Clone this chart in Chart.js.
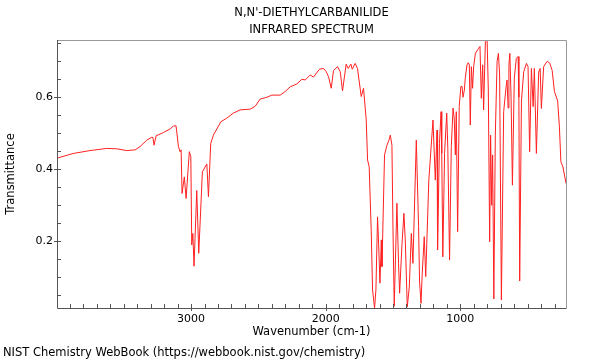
<!DOCTYPE html>
<html>
<head>
<meta charset="utf-8">
<script src="https://cdn.jsdelivr.net/npm/chart.js@4.4.1/dist/chart.umd.min.js"></script>
<style>
  body { margin: 0; background: #fff; }
  canvas { display: block; }
</style>
</head>
<body>
<canvas id="irChart" width="600" height="360"></canvas>
<script>
// spectrum (wavenumber in cm-1, transmittance)
const wavenumber = [
  3996, 3875, 3751, 3627, 3552, 3478, 3416, 3379, 3329, 3292, 3283, 3275, 3260, 3206, 3156, 3132,
  3112, 3102, 3094, 3082, 3074, 3067, 3050, 3037, 3013, 3002, 2995, 2987, 2978, 2958, 2943, 2916,
  2883, 2871, 2854, 2834, 2779, 2735, 2686, 2636, 2561, 2524, 2487, 2437, 2400, 2338, 2301, 2264,
  2214, 2177, 2152, 2115, 2091, 2046, 2016, 1996, 1979, 1959, 1942, 1912, 1892, 1875, 1848, 1833,
  1813, 1803, 1781, 1764, 1736, 1719, 1699, 1689, 1677, 1662, 1652, 1637, 1627, 1615, 1607, 1597,
  1587, 1582, 1563, 1545, 1531, 1520, 1508, 1500, 1491, 1471, 1459, 1451, 1433, 1419, 1409, 1394,
  1379, 1364, 1352, 1327, 1310, 1303, 1292, 1283, 1268, 1257, 1234, 1203, 1186, 1173, 1169, 1155,
  1143, 1138, 1130, 1117, 1101, 1093, 1080, 1067, 1054, 1045, 1037, 1030, 1020, 1008, 996, 987,
  980, 970, 963, 950, 941, 933, 926, 918, 909, 901, 888, 864, 854, 844, 834, 827,
  814, 801, 792, 782, 775, 767, 760, 751, 740, 727, 717, 708, 695, 678, 660, 653,
  645, 639, 632, 623, 613, 599, 584, 571, 565, 559, 546, 529, 509, 497, 485, 472,
  459, 450, 435, 418, 407, 398, 381, 355, 336, 318, 301, 277, 264, 253, 238, 215
];
const transmittance = [
  0.431, 0.444, 0.452, 0.458, 0.457, 0.452, 0.454, 0.463, 0.481, 0.489, 0.488, 0.467, 0.493, 0.502, 0.512, 0.52,
  0.521, 0.49, 0.463, 0.449, 0.454, 0.333, 0.379, 0.319, 0.449, 0.435, 0.19, 0.222, 0.131, 0.341, 0.167, 0.393,
  0.415, 0.324, 0.472, 0.495, 0.532, 0.542, 0.556, 0.565, 0.567, 0.575, 0.595, 0.6, 0.606, 0.606, 0.616, 0.629,
  0.637, 0.65, 0.648, 0.662, 0.656, 0.678, 0.68, 0.671, 0.657, 0.625, 0.674, 0.685, 0.671, 0.618, 0.692, 0.68,
  0.692, 0.678, 0.694, 0.68, 0.602, 0.625, 0.537, 0.426, 0.407, 0.231, 0.065, 0.015, 0.065, 0.268, 0.195, 0.084,
  0.204, 0.13, 0.44, 0.467, 0.48, 0.495, 0.467, 0.231, 0.02, 0.306, 0.139, 0.056, 0.194, 0.278, 0.204, 0.018,
  0.074, 0.222, 0.139, 0.481, 0.241, 0.09, 0.028, 0.11, 0.213, 0.102, 0.37, 0.537, 0.37, 0.509, 0.176, 0.472,
  0.56, 0.444, 0.157, 0.444, 0.556, 0.46, 0.148, 0.463, 0.57, 0.54, 0.44, 0.56, 0.227, 0.575, 0.63, 0.63,
  0.6, 0.62, 0.655, 0.69, 0.696, 0.69, 0.523, 0.685, 0.625, 0.685, 0.722, 0.736, 0.741, 0.597, 0.69, 0.565,
  0.754, 0.759, 0.62, 0.199, 0.495, 0.3, 0.44, 0.04, 0.495, 0.699, 0.722, 0.662, 0.037, 0.56, 0.629, 0.648,
  0.57, 0.69, 0.722, 0.6, 0.356, 0.653, 0.708, 0.713, 0.6, 0.09, 0.59, 0.671, 0.694, 0.685, 0.449, 0.68,
  0.574, 0.68, 0.444, 0.67, 0.68, 0.569, 0.685, 0.7, 0.695, 0.675, 0.616, 0.59, 0.518, 0.421, 0.407, 0.361
];
const xTickLabels = [1000, 2000, 3000];
const yTickLabels = [0.2, 0.4, 0.6];
const xRange = [215, 3996];
const yRange = [0.015, 0.759];

const titleLines = ["N,N'-DIETHYLCARBANILIDE", "INFRARED SPECTRUM"];
const xTitle = "Wavenumber (cm-1)";
const yTitle = "Transmittance";
const footer = "NIST Chemistry WebBook (https://webbook.nist.gov/chemistry)";

const FONT = "'DejaVu Sans', sans-serif";

const points = wavenumber.map((w, i) => ({ x: w, y: transmittance[i] }));

// frame, inward ticks and the loose texts
const nistFrame = {
  id: "nistFrame",
  afterDraw(chart) {
    const c = chart.ctx;
    const a = chart.chartArea;
    const xs = chart.scales.x;
    const ys = chart.scales.y;
    c.save();

    c.strokeStyle = "#999";
    c.lineWidth = 1;
    c.beginPath();
    c.moveTo(a.left, a.top + 0.5);
    c.lineTo(a.right + 0.5, a.top + 0.5);
    c.lineTo(a.right + 0.5, a.bottom);
    c.stroke();

    c.strokeStyle = "#555";
    c.beginPath();
    c.moveTo(a.left + 0.5, a.top);
    c.lineTo(a.left + 0.5, a.bottom + 0.5);
    c.lineTo(a.right + 0.5, a.bottom + 0.5);
    c.stroke();

    // minor ticks every 100 cm-1 and every 0.05
    c.beginPath();
    for (let w = 300; w <= 3900; w += 100) {
      const px = Math.round(xs.getPixelForValue(w)) + 0.5;
      const major = w % 1000 === 0;
      c.moveTo(px, a.bottom + (major ? 3 : 0));
      c.lineTo(px, a.bottom - 4);
    }
    for (let k = 1; k <= 15; k++) {
      const v = k * 0.05;
      if (v < yRange[0] || v > yRange[1]) continue;
      const py = Math.round(ys.getPixelForValue(v)) + 0.5;
      const major = k % 4 === 0;
      c.moveTo(a.left - (major ? 3 : 0), py);
      c.lineTo(a.left + 4, py);
    }
    c.stroke();

    c.fillStyle = "#000";
    c.font = "11.5px " + FONT;
    c.textAlign = "center";
    c.textBaseline = "middle";
    const cx = (a.left + a.right) / 2;
    c.fillText(titleLines[0], cx, 13);
    c.fillText(titleLines[1], cx, 30);
    c.fillText(xTitle, cx, 332);

    c.save();
    c.translate(11, (a.top + a.bottom) / 2);
    c.rotate(-Math.PI / 2);
    c.fillText(yTitle, 0, 0);
    c.restore();

    c.textAlign = "left";
    c.fillText(footer, 3, 353);
    c.restore();
  }
};

const ctx = document.getElementById("irChart").getContext("2d");
const irChart = new Chart(ctx, {
  type: "scatter",
  data: {
    datasets: [
      {
        data: points,
        showLine: true,
        borderColor: "#ff2020",
        borderWidth: 1,
        pointRadius: 0,
        tension: 0,
      },
    ],
  },
  options: {
    responsive: false,
    animation: false,
    layout: { padding: { top: 40, right: 34, left: 0, bottom: 0 } },
    plugins: {
      legend: { display: false },
      tooltip: { enabled: false },
    },
    scales: {
      x: {
        type: "linear",
        reverse: true,
        min: xRange[0],
        max: xRange[1],
        grid: { display: false, drawTicks: false },
        border: { display: false },
        afterBuildTicks: (s) => { s.ticks = xTickLabels.map((v) => ({ value: v })); },
        afterFit: (s) => { s.height = 52; },
        ticks: {
          color: "#000",
          padding: 5,
          maxRotation: 0,
          autoSkip: false,
          font: { family: FONT, size: 11 },
          callback: (v) => String(v),
        },
      },
      y: {
        type: "linear",
        min: yRange[0],
        max: yRange[1],
        grid: { display: false, drawTicks: false },
        border: { display: false },
        afterBuildTicks: (s) => { s.ticks = yTickLabels.map((v) => ({ value: v })); },
        afterFit: (s) => { s.width = 57; },
        ticks: {
          color: "#000",
          padding: 4,
          autoSkip: false,
          font: { family: FONT, size: 11 },
          callback: (v) => v.toFixed(1),
        },
      },
    },
  },
  plugins: [nistFrame],
});
</script>
</body>
</html>
